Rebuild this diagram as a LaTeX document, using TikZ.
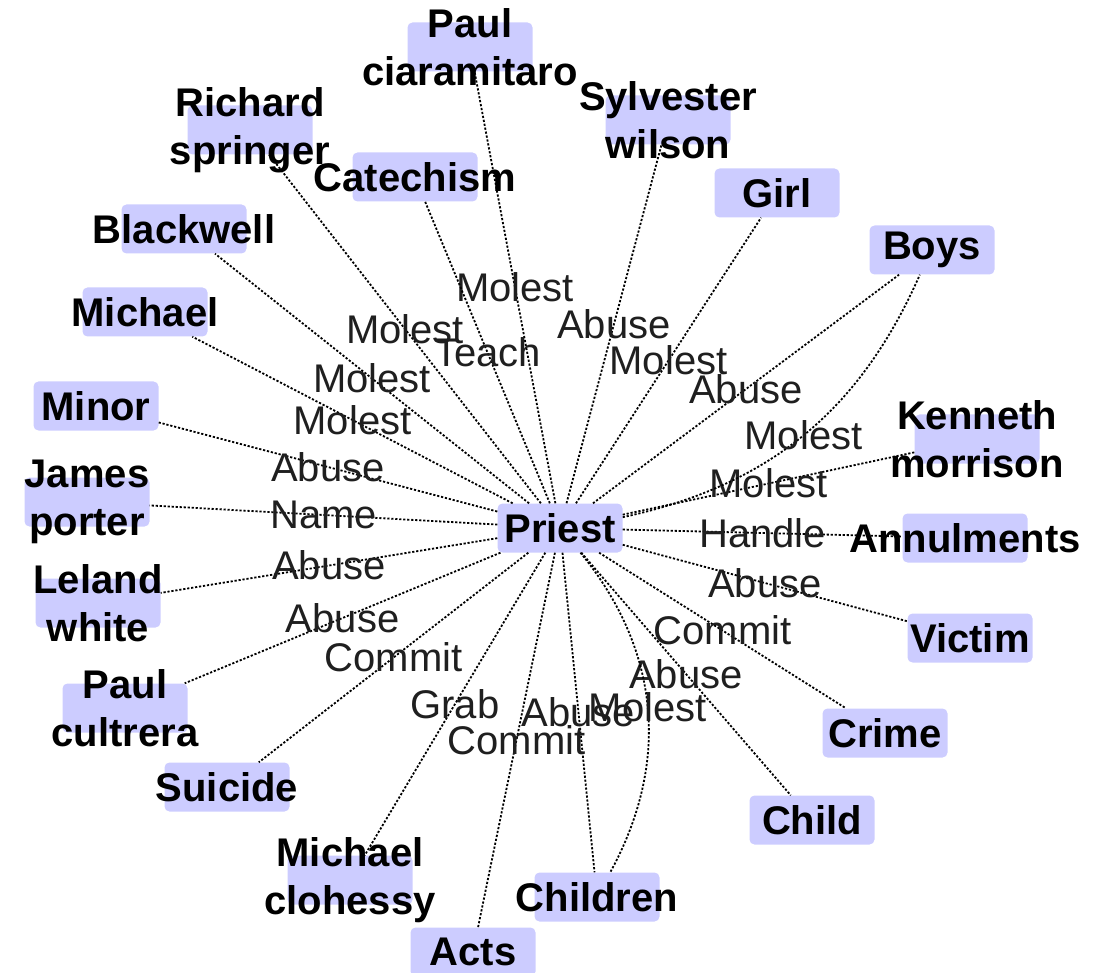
\documentclass[tikz,border=0pt]{standalone}
\usepackage{fontspec}
\setmainfont{Liberation Sans}
\usepackage{tikz}
\usetikzlibrary{calc}
\definecolor{lavender}{RGB}{204,204,255}

\begin{document}
\begin{tikzpicture}[x=1pt,y=-1pt,
  entity/.style={rectangle,rounded corners=5pt,fill=lavender,
    minimum width=125pt,minimum height=49pt,inner sep=0pt},
  entname/.style={font=\bfseries\fontsize{40}{48}\selectfont,align=center,inner sep=0pt},
  rel/.style={draw,line width=1.8pt,dash pattern=on 2.2pt off 1.8pt},
  rellabel/.style={font=\fontsize{40}{48}\selectfont,text=black!88,inner sep=0pt,midway}]
  \useasboundingbox (0,0) rectangle (1095,973);

  %% Building the boxes for the terms
  \foreach \nm/\px/\py/\txt in {PRIEST/560/528/Priest,
    PAULC/470/47/{Paul\\ciaramitaro}, RICHARD/250/130/{Richard\\springer},
    CATECHISM/415/177/Catechism, SYLVESTER/668/120/{Sylvester\\wilson},
    GIRL/777/193/Girl, BOYS/932/250/Boys, KENNETH/977/439/{Kenneth\\morrison},
    ANNUL/965/538/Annulments, VICTIM/970/638/Victim, CRIME/885/733/Crime,
    CHILD/812/820/Child, CHILDREN/597/897/Children, ACTS/473/952/Acts,
    MCLOHESSY/350/880/{Michael\\clohessy}, SUICIDE/227/787/Suicide,
    PCULTRERA/125/708/{Paul\\cultrera}, LELAND/98/603/{Leland\\white},
    JAMES/87/502/{James\\porter}, MINOR/96/406/Minor, MICHAEL/145/312/Michael,
    BLACKWELL/184/229/Blackwell}
  {
    \node[entity] (\nm) at (\px,\py) {};
    \node[entname] (\nm-T) at (\nm) {\txt};
  }

  %% Drawing the relations going out of Priest
  \foreach \nm/\lbl in {PAULC/Molest, RICHARD/Molest, CATECHISM/Teach,
    SYLVESTER/Abuse, GIRL/Molest, BOYS/Abuse, KENNETH/Molest, ANNUL/Handle,
    VICTIM/Abuse, CRIME/Commit, CHILD/Abuse, CHILDREN/Abuse, ACTS/Commit,
    MCLOHESSY/Grab, SUICIDE/Commit, PCULTRERA/Abuse, LELAND/Abuse,
    JAMES/Name, MINOR/Abuse, MICHAEL/Molest, BLACKWELL/Molest}
  {
    \draw[rel] (PRIEST) -- node[rellabel] (L-\nm) {\lbl} (\nm);
  }

  %% Second relation to Boys and Children, bent
  \draw[rel] (PRIEST) to[bend right=27] node[rellabel] (L2-BOYS) {Molest} (BOYS);
  \draw[rel] (PRIEST) to[bend left=34] node[rellabel] (L2-CHILDREN) {Molest} (CHILDREN);
\end{tikzpicture}
\end{document}
